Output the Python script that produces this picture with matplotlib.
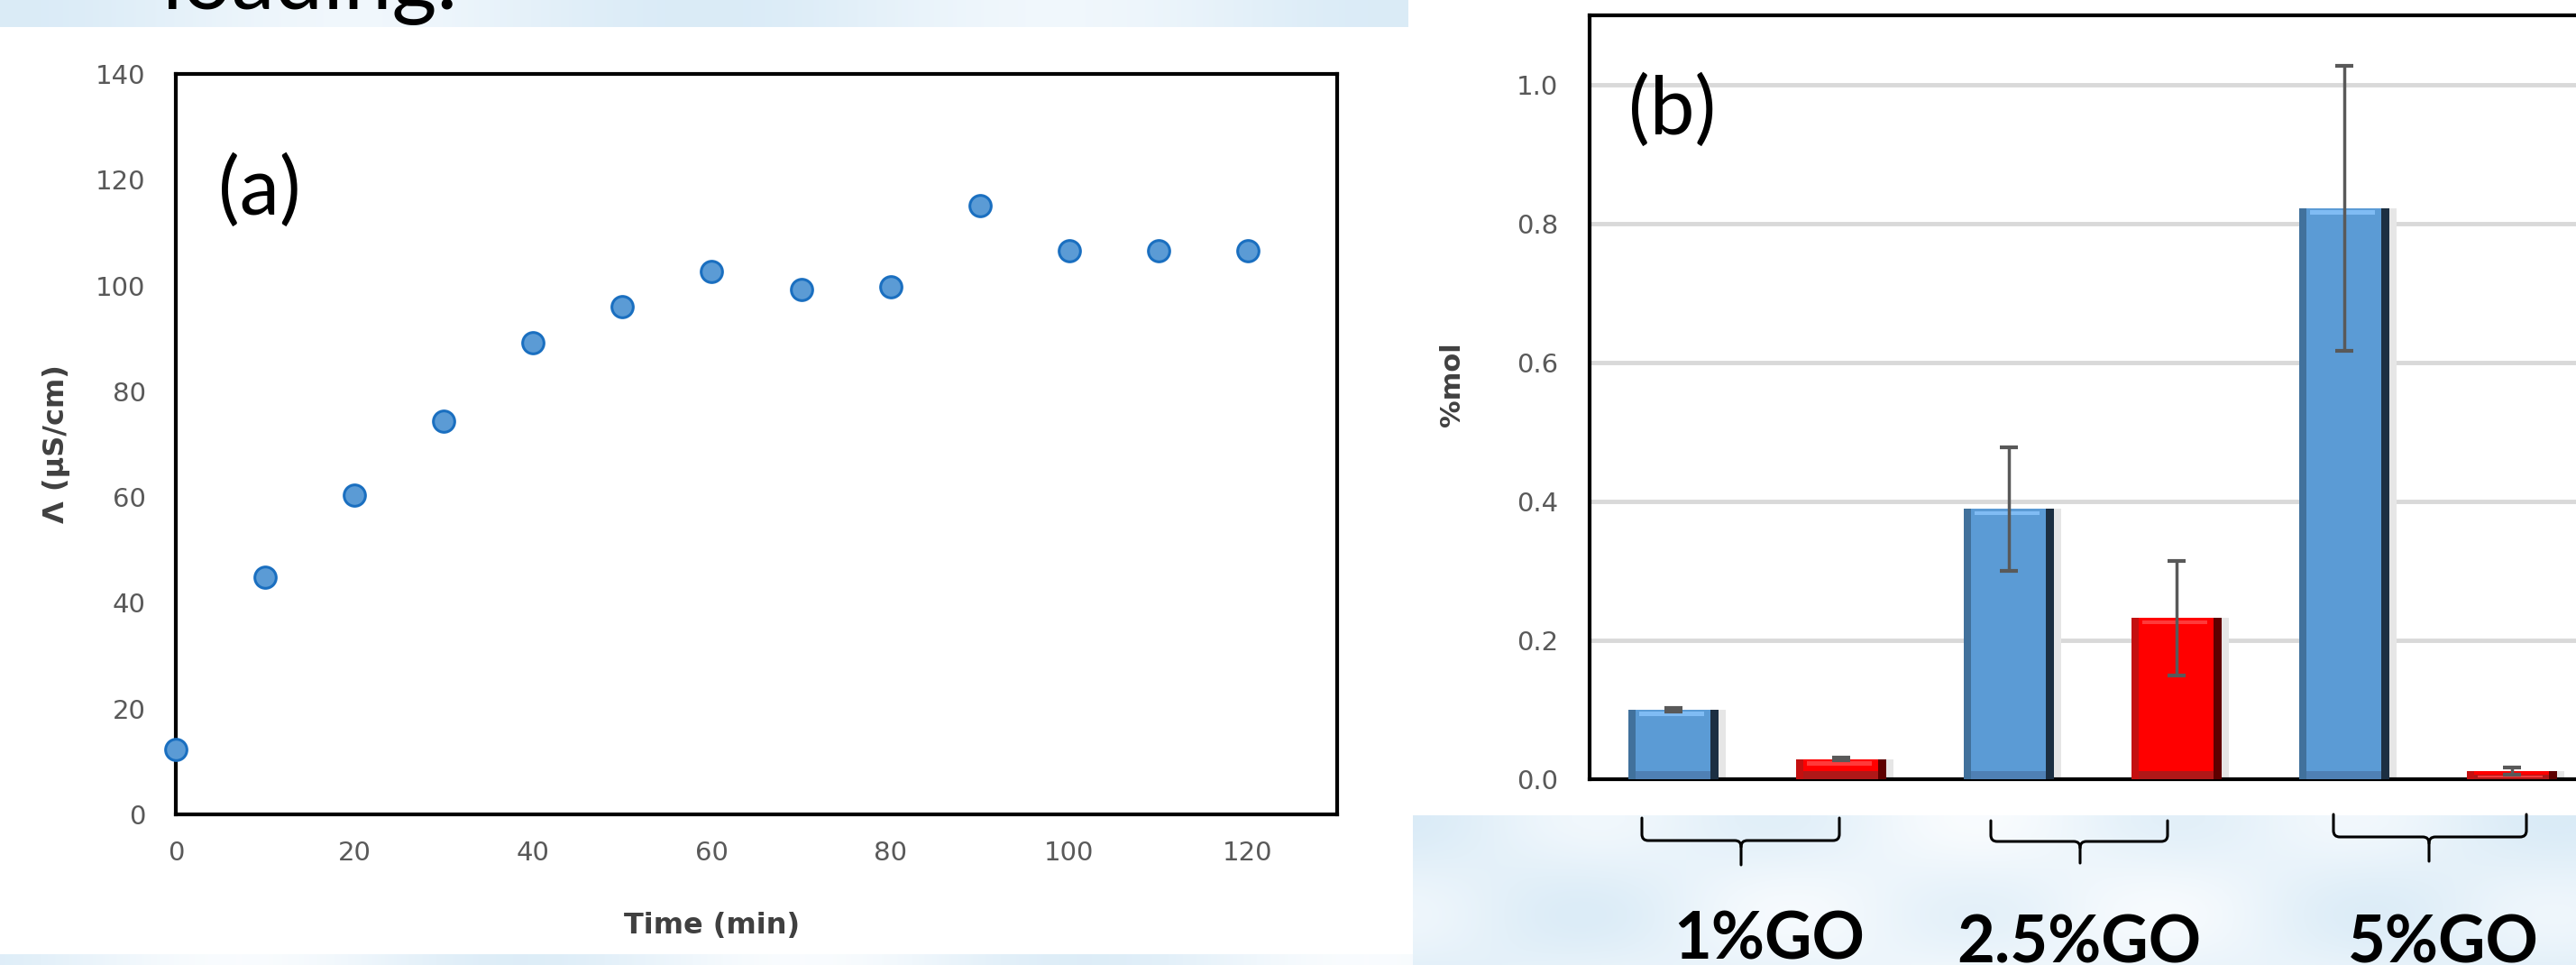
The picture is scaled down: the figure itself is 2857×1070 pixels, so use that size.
import numpy as np
import matplotlib
matplotlib.use('Agg')
import matplotlib.pyplot as plt
from matplotlib.path import Path
from matplotlib.patches import PathPatch

# ---------------- data ----------------
time_min = [0, 10, 20, 30, 40, 50, 60, 70, 80, 90, 100, 110, 120]
conductivity = [12.3, 44.8, 60.3, 74.3, 89.2, 96.0, 102.6, 99.2, 99.8, 115.1, 106.6, 106.6, 106.6]
x_ticks_a = [0, 20, 40, 60, 80, 100, 120]
y_ticks_a = [0, 20, 40, 60, 80, 100, 120, 140]

categories = ['1%GO', '2.5%GO', '5%GO']
blue_vals = [0.100, 0.389, 0.822]
blue_err = [0.002, 0.089, 0.205]
red_vals = [0.029, 0.232, 0.012]
red_err = [0.002, 0.082, 0.005]
y_ticks_b = [0.0, 0.2, 0.4, 0.6, 0.8, 1.0]

# ---------------- figure ----------------
W, H = 2857, 1070
fig = plt.figure(figsize=(W / 100, H / 100), dpi=100)
fig.patch.set_facecolor('white')

bg = fig.add_axes([0, 0, 1, 1], zorder=-5)
bg.axis('off')

WHITE = np.array([0.99, 0.995, 1.0])
BLUE = np.array([0.855, 0.922, 0.968])


def grad(w, h, fn):
    X, Y = np.meshgrid(np.linspace(0, 1, w), np.linspace(0, 1, h))
    f = np.clip(fn(X, Y), 0, 1)
    return WHITE + (BLUE - WHITE) * f[..., None]


top_img = grad(400, 10, lambda X, Y: 0.35 + 0.65 * (0.5 + 0.5 * np.cos(4 * np.pi * X)))
bl_img = grad(400, 5, lambda X, Y: 0.5 + 0.4 * np.cos(5 * np.pi * X + 0.5))
br_img = grad(300, 60, lambda X, Y: 0.55 + 0.3 * np.cos(6 * np.pi * X + 0.3) * np.cos(1.5 * np.pi * Y)
              + 0.15 * np.cos(2 * np.pi * X))
bg.imshow(top_img, extent=[0, 1562, 30, 0], aspect='auto', interpolation='bilinear')
bg.imshow(bl_img, extent=[0, 1567, 1070, 1058], aspect='auto', interpolation='bilinear')
bg.imshow(br_img, extent=[1567, W, 1070, 904], aspect='auto', interpolation='bilinear')
bg.set_xlim(0, W)
bg.set_ylim(H, 0)

bg.text(180, 10, 'loading.', fontsize=69, family='Lato', color='black',
        ha='left', va='baseline')


# brackets under the bar chart
def brace(xl, xr, xs, top, line, bot, r=7):
    M, L, C = Path.MOVETO, Path.LINETO, Path.CURVE3
    v1 = [(xl, top), (xl, line - r), (xl, line), (xl + r, line), (xs - r, line),
          (xs, line), (xs, line + r), (xs, bot)]
    c1 = [M, L, C, C, L, C, C, L]
    v2 = [(xs, line + r), (xs, line), (xs + r, line), (xr - r, line), (xr, line),
          (xr, line - r), (xr, top)]
    c2 = [M, C, C, L, C, C, L]
    for v, c in ((v1, c1), (v2, c2)):
        bg.add_patch(PathPatch(Path(v, c), fill=False, lw=2.2, color='black',
                               capstyle='round', joinstyle='round'))


brace(1821, 2040, 1931, 907, 932, 959)
brace(2208, 2404, 2307, 910, 933, 957)
brace(2588, 2802, 2694, 903, 928, 955)

label_x = [1962, 2306, 2710]
label_base = [1063, 1068, 1067]
for name, lx, lb in zip(categories, label_x, label_base):
    bg.text(lx, lb, name, fontsize=52, family='Lato', weight='bold', color='black',
            ha='center', va='baseline')

# ---------------- (a) scatter ----------------
axa = fig.add_axes([195 / W, 1 - 903 / H, (1483 - 195) / W, (903 - 82) / H])
axa.set_facecolor('none')
axa.scatter(time_min, conductivity, s=290, c='#5B9BD5', edgecolors='#1A6FC0',
            linewidths=2.2, zorder=5, clip_on=False)
axa.set_xlim(0, 130)
axa.set_ylim(0, 140)
axa.set_xticks(x_ticks_a)
axa.set_yticks(y_ticks_a)
for s in axa.spines.values():
    s.set_linewidth(3)
    s.set_color('black')
axa.tick_params(length=0, labelsize=21, labelcolor='#595959')
axa.tick_params(axis='y', pad=24)
axa.tick_params(axis='x', pad=21)
axa.set_xlabel('Time (min)', fontsize=23, weight='bold', color='#404040', va='center')
axa.xaxis.set_label_coords(0.462, -0.150)
axa.set_ylabel('Λ (µS/cm)', fontsize=23, weight='bold', color='#404040', va='center')
axa.yaxis.set_label_coords(-0.103, 0.5)
axa.text(242, 213, '(a)', fontsize=64, family='Lato', color='black', ha='left',
         va='center', transform=bg.transData, zorder=10)

# ---------------- (b) bars ----------------
axb = fig.add_axes([1763 / W, 1 - 864 / H, 1116 / W, 847 / H])
axb.set_facecolor('none')
axb.set_xlim(-0.5, 2.5)
axb.set_ylim(0, 1.1)
axb.set_yticks(y_ticks_b)
axb.set_yticklabels(['%.1f' % t for t in y_ticks_b])
axb.set_xticks([])
axb.yaxis.grid(True, color='#D9D9D9', lw=3.5)
axb.set_axisbelow(True)
for k in ('left', 'bottom', 'top'):
    axb.spines[k].set_linewidth(3)
    axb.spines[k].set_color('black')
axb.spines['right'].set_visible(False)
axb.tick_params(length=0, labelsize=21, labelcolor='#595959', pad=25)
axb.set_ylabel('%mol', fontsize=22, weight='bold', color='#404040', va='center')
axb.yaxis.set_label_coords(-0.137, 0.517)

idx = np.arange(len(categories))
w = 0.27
styles = [
    dict(vals=blue_vals, err=blue_err, off=-0.25, outer='#41719C', face='#5B9BD5',
         right='#1C2F42', hl='#80BCF4', bottom='#4F80B4', bfrac=0.12),
    dict(vals=red_vals, err=red_err, off=0.25, outer='#C41010', face='#FF0000',
         right='#5E0000', hl='#FF3A3A', bottom='#B01818', bfrac=0.55),
]
for st in styles:
    v = np.array(st['vals'])
    x = idx + st['off']
    axb.bar(x + 0.022, v, w, color='#E6E6E6', zorder=2)
    axb.bar(x, v, w, color=st['outer'], zorder=3)
    axb.bar(x - 0.005 * w, v, 0.83 * w, color=st['face'], zorder=4)
    axb.bar(x + w / 2 - 0.045 * w, v, 0.09 * w, color=st['right'], zorder=4)
    bh = np.minimum(0.012, st['bfrac'] * v)
    axb.bar(x - 0.005 * w, bh, 0.83 * w, color=st['bottom'], zorder=4)
    hh = np.minimum(0.006, 0.2 * v)
    axb.bar(x - 0.02 * w, hh, 0.72 * w, bottom=v - 0.009, color=st['hl'], zorder=4)
    axb.errorbar(x, v, yerr=st['err'], fmt='none', ecolor='#595959', elinewidth=2.5,
                 capsize=7.5, capthick=3, zorder=7)

axb.text(1806, 124, '(b)', fontsize=64, family='Lato', color='black', ha='left',
         va='center', transform=bg.transData, zorder=10)

fig.savefig('out.png', dpi=100, facecolor='white')
